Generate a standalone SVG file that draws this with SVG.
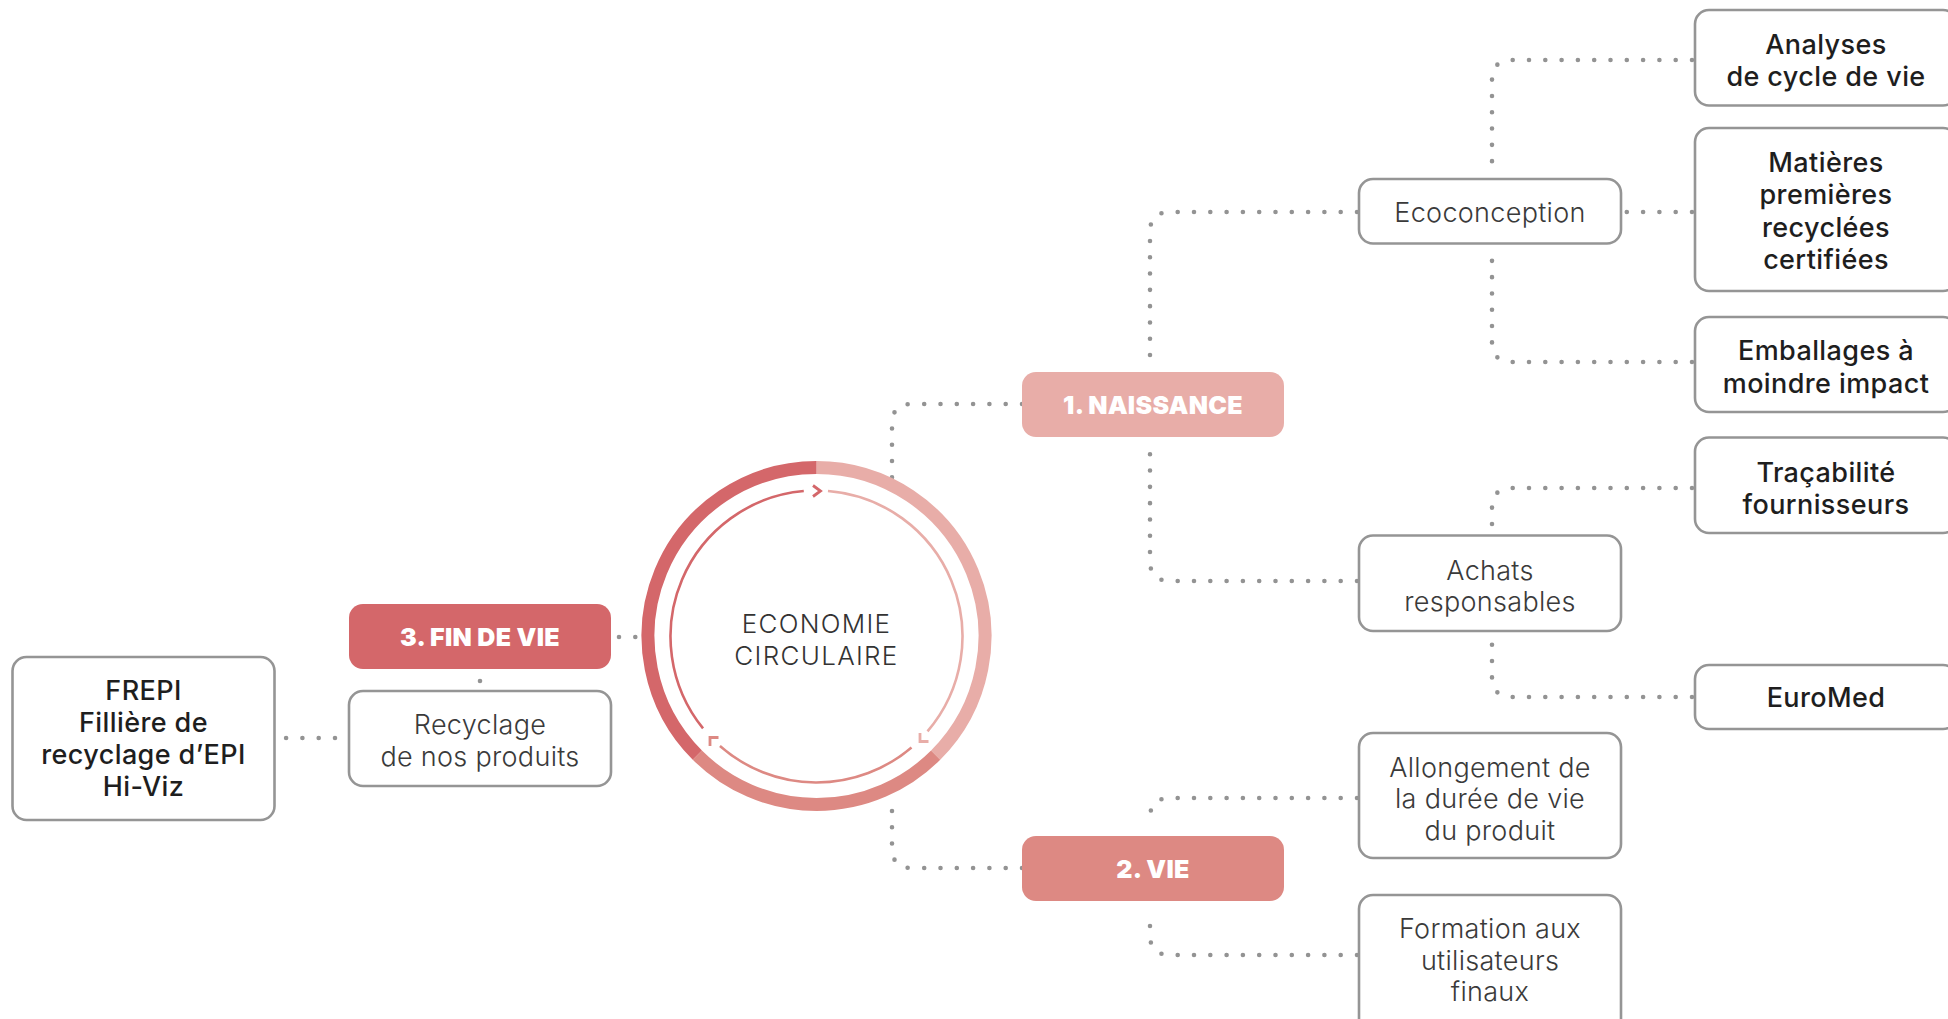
<svg xmlns="http://www.w3.org/2000/svg" width="1948" height="1019" viewBox="0 0 1948 1019">
<style>
.box{fill:#fff;stroke:#959595;stroke-width:2.6}
.hd{stroke:none}
.lt{font-family:Inter,"Noto Sans",sans-serif;font-weight:300;font-size:27px;fill:#3a3a3a;text-anchor:middle;letter-spacing:0.3px}
.dk{font-family:Inter,"Noto Sans",sans-serif;font-weight:500;font-size:27px;fill:#1e1e1e;text-anchor:middle;letter-spacing:0.4px}
.ht{font-family:Inter,"Noto Sans",sans-serif;font-weight:900;font-size:25px;fill:#fff;text-anchor:middle;letter-spacing:0.3px}
.ct{font-family:Inter,"Noto Sans",sans-serif;font-weight:300;font-size:26px;fill:#333;text-anchor:middle;letter-spacing:1.3px}
.dot{fill:none;stroke:#939393;stroke-width:4.6;stroke-linecap:round;stroke-dasharray:0 16.3}
.ring{fill:none;stroke-width:13}
.in{fill:none;stroke-width:2.6}
.chev{fill:none;stroke-width:2.8;stroke-linecap:butt;stroke-linejoin:miter}
</style>

<g id="connectors">
<path class="dot" d="M1022 404 H912 Q892 404 892 424 V478"/>
<path class="dot" d="M1022 868 H912 Q892 868 892 848 V796"/>
<path class="dot" d="M619 637 H636"/>
<path class="dot" d="M1357 212 H1170 Q1150 212 1150 232 V362"/>
<path class="dot" d="M1357 581 H1170 Q1150 581 1150 561 V446"/>
<path class="dot" d="M1692 60 H1512 Q1492 60 1492 80 V168"/>
<path class="dot" d="M1692 212 H1626"/>
<path class="dot" d="M1692 362 H1512 Q1492 362 1492 342 V256"/>
<path class="dot" d="M1692 488 H1512 Q1492 488 1492 508 V528"/>
<path class="dot" d="M1692 697 H1512 Q1492 697 1492 677 V638"/>
<path class="dot" d="M1357 798 H1170 Q1150 798 1150 818 V822"/>
<path class="dot" d="M1357 955 H1170 Q1150 955 1150 935 V912"/>
<path class="dot" d="M480 681 V681.01"/>
<path class="dot" d="M335 738 H286"/>
</g>

<g id="circle">
<path class="ring" stroke="#E8ADA8" d="M816.5 467.5 A168.5 168.5 0 0 1 935.65 755.15"/>
<path class="ring" stroke="#DD8983" d="M935.65 755.15 A168.5 168.5 0 0 1 697.35 755.15"/>
<path class="ring" stroke="#D4676A" d="M697.35 755.15 A168.5 168.5 0 0 1 816.5 467.5"/>
<path class="in" stroke="#D4676A" d="M703.04 728.38 A146 146 0 0 1 803.78 491.06"/>
<path class="in" stroke="#E8ADA8" d="M827.96 490.95 A146 146 0 0 1 927.5 731.3"/>
<path class="in" stroke="#DD8983" d="M911.5 747.4 A146 146 0 0 1 719.95 746.0"/>
<polyline class="chev" stroke="#D4676A" points="813,485.5 820.5,491 813,496.5"/>
<polyline class="chev" stroke="#E8ADA8" points="920,733 920,741.5 928.5,741.5"/>
<polyline class="chev" stroke="#DD8983" points="718.5,737.5 710,737.5 710,746"/>
<text class="ct" x="816.5" y="633">ECONOMIE</text>
<text class="ct" x="816.5" y="665">CIRCULAIRE</text>
</g>

<g id="naissance">
<rect class="hd" x="1022" y="372" width="262" height="65" rx="14" fill="#E8ADA8"/>
<text class="ht" x="1153" y="414">1. NAISSANCE</text>
</g>
<g id="vie">
<rect class="hd" x="1022" y="836" width="262" height="65" rx="14" fill="#DD8983"/>
<text class="ht" x="1153" y="878">2. VIE</text>
</g>
<g id="findevie">
<rect class="hd" x="349" y="604" width="262" height="65" rx="14" fill="#D4676A"/>
<text class="ht" x="480" y="646">3. FIN DE VIE</text>
</g>

<g id="recyclage">
<rect class="box" x="349" y="691" width="262" height="95" rx="14"/>
<text class="lt" x="480" y="734">Recyclage</text>
<text class="lt" x="480" y="766">de nos produits</text>
</g>
<g id="frepi">
<rect class="box" x="12.5" y="657" width="262" height="163" rx="14"/>
<text class="dk" x="143.5" y="700">FREPI</text>
<text class="dk" x="143.5" y="732">Fillière de</text>
<text class="dk" x="143.5" y="764">recyclage d’EPI</text>
<text class="dk" x="143.5" y="796">Hi-Viz</text>
</g>

<g id="ecoconception">
<rect class="box" x="1359" y="179" width="262" height="64.5" rx="14"/>
<text class="lt" x="1490" y="222">Ecoconception</text>
</g>
<g id="achats">
<rect class="box" x="1359" y="535.5" width="262" height="95.5" rx="14"/>
<text class="lt" x="1490" y="580">Achats</text>
<text class="lt" x="1490" y="611">responsables</text>
</g>
<g id="allongement">
<rect class="box" x="1359" y="733" width="262" height="125" rx="14"/>
<text class="lt" x="1490" y="777">Allongement de</text>
<text class="lt" x="1490" y="808">la durée de vie</text>
<text class="lt" x="1490" y="840">du produit</text>
</g>
<g id="formation">
<rect class="box" x="1359" y="895" width="262" height="140" rx="14"/>
<text class="lt" x="1490" y="938">Formation aux</text>
<text class="lt" x="1490" y="970">utilisateurs</text>
<text class="lt" x="1490" y="1001">finaux</text>
</g>

<g id="analyses">
<rect class="box" x="1695" y="10" width="262" height="95.5" rx="14"/>
<text class="dk" x="1826" y="54">Analyses</text>
<text class="dk" x="1826" y="86">de cycle de vie</text>
</g>
<g id="matieres">
<rect class="box" x="1695" y="128" width="262" height="163" rx="14"/>
<text class="dk" x="1826" y="171.5">Matières</text>
<text class="dk" x="1826" y="204">premières</text>
<text class="dk" x="1826" y="236.5">recyclées</text>
<text class="dk" x="1826" y="269">certifiées</text>
</g>
<g id="emballages">
<rect class="box" x="1695" y="317" width="262" height="95" rx="14"/>
<text class="dk" x="1826" y="360">Emballages à</text>
<text class="dk" x="1826" y="393">moindre impact</text>
</g>
<g id="tracabilite">
<rect class="box" x="1695" y="437.5" width="262" height="95.5" rx="14"/>
<text class="dk" x="1826" y="482">Traçabilité</text>
<text class="dk" x="1826" y="514">fournisseurs</text>
</g>
<g id="euromed">
<rect class="box" x="1695" y="665" width="262" height="64" rx="14"/>
<text class="dk" x="1826" y="707">EuroMed</text>
</g>
</svg>
